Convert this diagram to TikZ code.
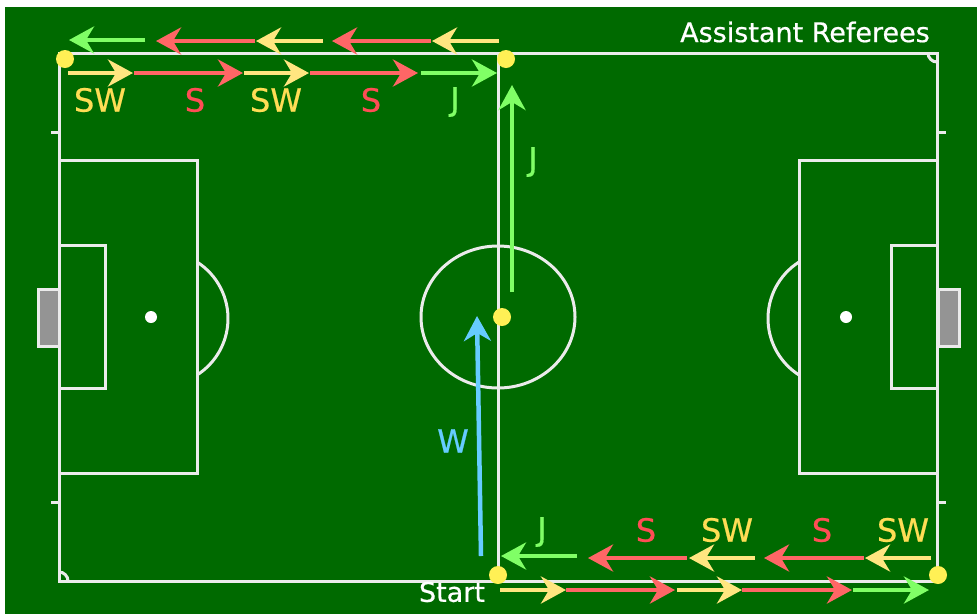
\documentclass[tikz,border=0pt]{standalone}
\usepackage{fontspec}
\setmainfont[FakeBold=0.6]{DejaVu Sans}
\usetikzlibrary{arrows.meta,positioning}
\definecolor{pitchgreen}{HTML}{006A00}
\definecolor{runyellow}{HTML}{FFE680}
\definecolor{runred}{HTML}{FF6666}
\definecolor{rungreen}{HTML}{80FF66}
\definecolor{runblue}{HTML}{66CCFF}
\definecolor{txtyellow}{HTML}{FFDD55}
\definecolor{txtred}{HTML}{FF4D55}
\definecolor{dotyellow}{HTML}{FFF055}
\tikzset{
  pitchline/.style={draw=white!92!black,line width=3pt},
  run/.style={line width=4.5pt,-{Stealth[length=25pt,width=27pt,inset=8pt]}},
  referee/.style={circle,fill=dotyellow,inner sep=0pt,minimum size=18pt},
  spot/.style={circle,fill=white,inner sep=0pt,minimum size=12pt},
  lbl/.style={inner sep=0pt,font=\fontsize{32}{34}\selectfont},
  whitelbl/.style={inner sep=0pt,text=white,font=\fontsize{27}{29}\selectfont}
}
\begin{document}
\begin{tikzpicture}[x=1pt,y=-1pt]
    \useasboundingbox (0,0) rectangle (977,614);
    \fill[white] (0,0) rectangle (977,614);
    \fill[pitchgreen] (5,7) rectangle (977,614);
    % goals
    \filldraw[fill=black!42,pitchline] (59,289) rectangle (38,346);
    \filldraw[fill=black!42,pitchline] (938,289) rectangle (959,346);
    % pitch
    \draw[pitchline] (59,53) rectangle (937,581);
    \draw[pitchline] (498,53) -- (498,581);
    \draw[pitchline] (498,317) circle[x radius=77,y radius=71];
    \draw[pitchline] (59,160) rectangle (197,473);
    \draw[pitchline] (59,245) rectangle (105,388);
    \draw[pitchline] (937,160) rectangle (799,473);
    \draw[pitchline] (937,245) rectangle (891,388);
    \draw[pitchline] (197,262) arc[start angle=-57.5,end angle=57.5,radius=67];
    \draw[pitchline] (799,262) arc[start angle=237.5,end angle=122.5,radius=67];
    \foreach \y in {132,502}{
       \draw[pitchline] (51,\y) -- (59,\y);
       \draw[pitchline] (937,\y) -- (946,\y);}
    \draw[pitchline] (928,53) arc[start angle=180,end angle=90,radius=9];
    \draw[pitchline] (59,572) arc[start angle=-90,end angle=0,radius=9];
    \node[spot] (spotl) at (151,317) {};
    \node[spot] (spotr) at (846,317) {};
    % referee positions
    \node[referee] (reftl) at (65,59) {};
    \node[referee] (reftm) at (506,59) {};
    \node[referee] (centre) at (502,317) {};
    \node[referee] (refbm) at (498,575) {};
    \node[referee] (refbr) at (938,575) {};
    % run end points
    \foreach \n/\x/\y in {a0/68/73,a1/133/73,a2/134/73,a3/243/73,a4/244/73,a5/309/73,a6/310/73,a7/418/73,a8/421/73,a9/497/73,
       b0/499/41,b1/432/41,b2/431/41,b3/332/41,b4/323/41,b5/256/41,b6/255/41,b7/156/41,b8/145/40,b9/69/40,
       c0/500/590,c1/566/590,c2/566/590,c3/675/590,c4/677/590,c5/742/590,c6/742/590,c7/852/590,c8/853/590,c9/929/590,
       d0/931/558,d1/865/558,d2/864/558,d3/764/558,d4/755/558,d5/689/558,d6/687/558,d7/588/558,d8/577/556,d9/501/556,
       j0/512/292,j1/512/85,w0/481/556,w1/477/316}{
       \coordinate (\n) at (\x,\y);}
    % runs
    \foreach \r in {a,b,c,d}{
       \draw[run,runyellow] (\r0) -- (\r1);
       \draw[run,runred] (\r2) -- (\r3);
       \draw[run,runyellow] (\r4) -- (\r5);
       \draw[run,runred] (\r6) -- (\r7);
       \draw[run,rungreen] (\r8) -- (\r9);}
    \draw[run,rungreen] (j0) -- (j1);
    \draw[run,runblue] (w0) -- (w1);
    % labels
    \node[lbl,text=txtyellow] (ta1) at (100,100) {SW};
    \node[lbl,text=txtred] (ta2) at (195,100) {S};
    \node[lbl,text=txtyellow] (ta3) at (276,100) {SW};
    \node[lbl,text=txtred] (ta4) at (371,100) {S};
    \node[lbl,text=rungreen] (ta5) at (455,102) {J};
    \node[lbl,text=rungreen] (tj) at (533,162) {J};
    \node[lbl,text=runblue] (tw) at (453,441) {W};
    \node[lbl,text=rungreen] (td5) at (542,532) {J};
    \node[lbl,text=txtred] (td4) at (646,530) {S};
    \node[lbl,text=txtyellow] (td3) at (727,530) {SW};
    \node[lbl,text=txtred] (td2) at (822,530) {S};
    \node[lbl,text=txtyellow] (td1) at (903,530) {SW};
    \node[whitelbl] (tstart) at (452,592) {Start};
    \node[whitelbl] (trefs) at (805,32) {Assistant Referees};
\end{tikzpicture}
\end{document}
